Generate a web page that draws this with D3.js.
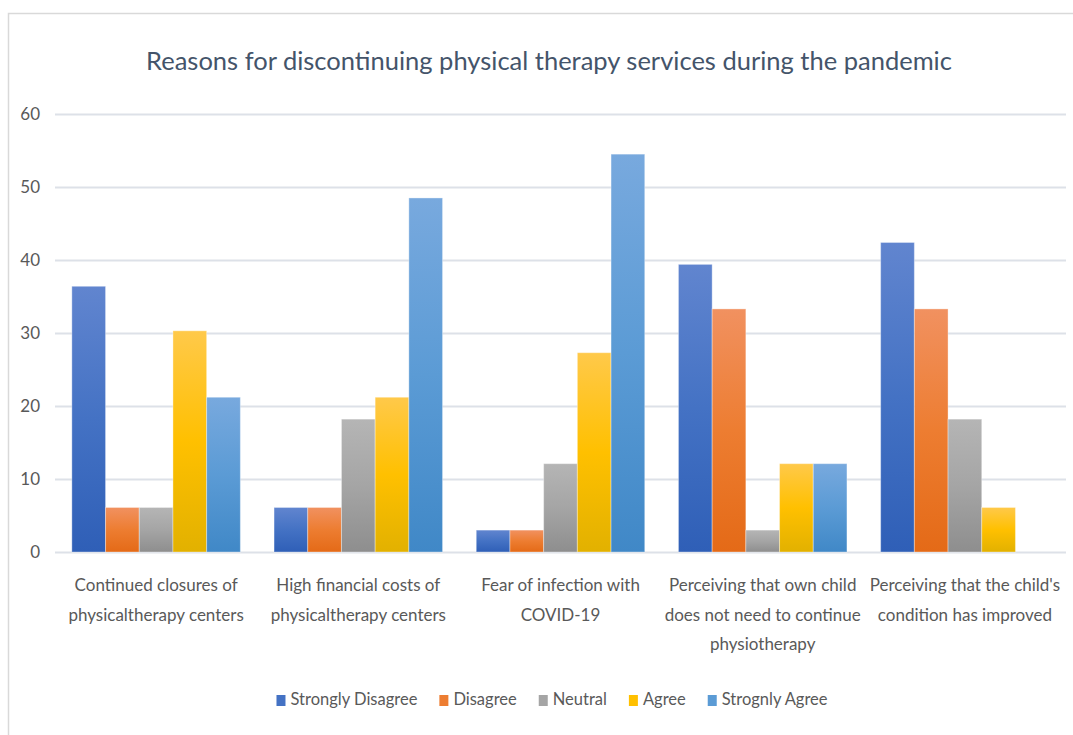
<!DOCTYPE html>
<html>
<head>
<meta charset="utf-8">
<script src="https://cdn.jsdelivr.net/npm/d3@7"></script>
<style>
  body { margin: 0; background: #fff; }
  svg { display: block; }
  text { font-family: Lato, "Open Sans", sans-serif; }
</style>
</head>
<body>
<svg id="chart" width="1073" height="735"></svg>
<script>
// chart data
const categories = [
  ["Continued closures of", "physicaltherapy centers"],
  ["High financial costs of", "physicaltherapy centers"],
  ["Fear of infection with", "COVID-19"],
  ["Perceiving that own child", "does not need to continue", "physiotherapy"],
  ["Perceiving that the child's", "condition has improved"]
];
const seriesNames = ["Strongly Disagree", "Disagree", "Neutral", "Agree", "Strognly Agree"];
const stronglyDisagree = [36.4, 6.1, 3.0, 39.4, 42.4];
const disagree = [6.1, 6.1, 3.0, 33.3, 33.3];
const neutral = [6.1, 18.2, 12.1, 3.0, 18.2];
const agree = [30.3, 21.2, 27.3, 12.1, 6.1];
const stronglyAgree = [21.2, 48.5, 54.5, 12.1, 0];
const yTicks = [0, 10, 20, 30, 40, 50, 60];

const seriesValues = [stronglyDisagree, disagree, neutral, agree, stronglyAgree];
// base, lighter top, darker bottom
const colors = [
  ["#4472C4", "#6185cf", "#2f5fb7"],
  ["#ED7D31", "#f19160", "#e46a17"],
  ["#A5A5A5", "#b5b5b5", "#8e8e8e"],
  ["#FFC000", "#ffc94a", "#e2b100"],
  ["#5B9BD5", "#78a9de", "#4088c7"]
];

const svg = d3.select("#chart");
const margin = { left: 55, right: 1066, top: 114, bottom: 552 };

// outer chart border
svg.append("rect")
  .attr("x", 8.5).attr("y", 13.5)
  .attr("width", 1100).attr("height", 760)
  .attr("fill", "none").attr("stroke", "#d9d9d9").attr("stroke-width", 1.5);

// gradients
const defs = svg.append("defs");
colors.forEach((c, i) => {
  const g = defs.append("linearGradient")
    .attr("id", "grad" + i)
    .attr("x1", 0).attr("y1", 0).attr("x2", 0).attr("y2", 1);
  g.append("stop").attr("offset", "0%").attr("stop-color", c[1]);
  g.append("stop").attr("offset", "50%").attr("stop-color", c[0]);
  g.append("stop").attr("offset", "100%").attr("stop-color", c[2]);
});

svg.append("text")
  .attr("x", 549).attr("y", 70)
  .attr("text-anchor", "middle")
  .attr("font-size", 25.5)
  .attr("fill", "#44546a")
  .text("Reasons for discontinuing physical therapy services during the pandemic");

const y = d3.scaleLinear().domain([0, 60]).range([margin.bottom, margin.top]);
const x0 = d3.scaleBand()
  .domain(d3.range(categories.length))
  .range([margin.left, margin.right])
  .paddingInner(1 / 6)
  .paddingOuter(1 / 12);
const x1 = d3.scaleBand()
  .domain(d3.range(seriesNames.length))
  .range([0, x0.bandwidth()]);

// gridlines + y labels
const yAxis = svg.append("g")
  .attr("transform", `translate(${margin.left},0)`)
  .call(d3.axisLeft(y).tickValues(yTicks).tickSize(-(margin.right - margin.left)).tickPadding(15));
yAxis.select(".domain").remove();
yAxis.selectAll(".tick line").attr("stroke", "#dde1e8").attr("stroke-width", 2);
yAxis.selectAll(".tick text")
  .attr("font-size", 17).attr("fill", "#595959")
  .attr("font-family", "Lato, sans-serif");

// bars
const groups = svg.append("g").selectAll("g")
  .data(categories)
  .join("g")
  .attr("transform", (d, i) => `translate(${x0(i)},0)`);

groups.selectAll("rect")
  .data((d, i) => seriesValues.map((s, k) => ({ k, v: s[i] })))
  .join("rect")
  .filter(d => d.v > 0)
  .attr("x", d => x1(d.k))
  .attr("y", d => y(d.v))
  .attr("width", x1.bandwidth())
  .attr("height", d => y(0) - y(d.v))
  .attr("fill", d => `url(#grad${d.k})`)
  .attr("stroke", "rgba(255,255,255,0.35)")
  .attr("stroke-width", 1);

// category labels
groups.each(function(lines, i) {
  const t = d3.select(this).append("text")
    .attr("text-anchor", "middle")
    .attr("font-size", 17)
    .attr("fill", "#595959");
  lines.forEach((ln, j) => {
    t.append("tspan")
      .attr("x", x0.bandwidth() / 2)
      .attr("y", 591 + j * 29.5)
      .text(ln);
  });
});

// legend
const legend = svg.append("g");
let lx = 0;
const gap = 22;
seriesNames.forEach((name, k) => {
  const item = legend.append("g").attr("transform", `translate(${lx},0)`);
  item.append("rect")
    .attr("x", 0).attr("y", -10)
    .attr("width", 9).attr("height", 11)
    .attr("fill", colors[k][0]);
  const t = item.append("text")
    .attr("x", 14).attr("y", 0)
    .attr("font-size", 16.5)
    .attr("fill", "#595959")
    .text(name);
  lx += 14 + t.node().getComputedTextLength() + gap;
});
lx -= gap;
legend.attr("transform", `translate(${552 - lx / 2},705)`);
</script>
</body>
</html>
